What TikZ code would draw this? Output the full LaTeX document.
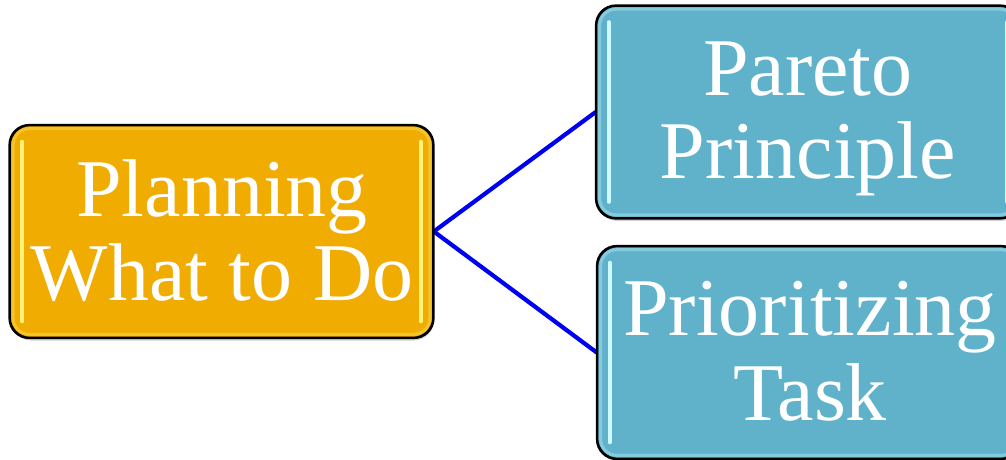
\documentclass[tikz,border=0pt]{standalone}
\usepackage{fontspec}
\setmainfont{Liberation Serif}
\usetikzlibrary{calc,shadows}
\definecolor{orangebox}{HTML}{F0AC00}
\definecolor{bluebox}{HTML}{60B2CB}
\definecolor{orangehi}{HTML}{FFF27A}
\definecolor{bluehi}{HTML}{CFF8FF}
\definecolor{linkblue}{HTML}{0000F0}
\tikzset{
  box/.style={draw=black, line width=1.6pt, rounded corners=20pt,
    minimum width=423pt, minimum height=212pt, inner sep=0pt,
    drop shadow={shadow xshift=1pt, shadow yshift=-3pt, opacity=0.35}},
  lbl/.style={anchor=base, text=white, inner sep=0pt,
    font=\fontsize{82}{82}\selectfont},
  link/.style={draw=linkblue, line width=4.2pt},
  hibar/.style={line width=4pt, line cap=round},
}
\begin{document}
\begin{tikzpicture}[x=1pt,y=-1pt]
\useasboundingbox (0,0) rectangle (1006,460);
\node[box, fill=orangebox] (plan) at (221.5,231.5) {};
\node[box, fill=bluebox] (pareto) at (808,112) {};
\node[box, fill=bluebox] (prio) at (809,352.5) {};
% connectors
\draw[link] (plan.east) -- (pareto.west);
\draw[link] (plan.east) -- (prio.west);
% inner soft edge and highlight bars
\foreach \b/\c in {plan/orangehi, pareto/bluehi, prio/bluehi}{
  \draw[\c, opacity=0.35, line width=3pt, rounded corners=16pt]
    ($(\b.north west)+(4,4)$) rectangle ($(\b.south east)+(-4,-4)$);
  \draw[hibar, \c] ($(\b.north west)+(13,17)$) -- ($(\b.south west)+(13,-17)$);
  \draw[hibar, \c] ($(\b.north east)+(-13,17)$) -- ($(\b.south east)+(-13,-17)$);
}
% borders on top
\foreach \b in {plan, pareto, prio}{
  \draw[black, line width=1.6pt, rounded corners=20pt] (\b.north west) rectangle (\b.south east);
}
% labels
\node[lbl] (plan1) at (222,216) {Planning};
\node[lbl] (plan2) at (222,300) {What to Do};
\node[lbl] (par1) at (808,95) {Pareto};
\node[lbl] (par2) at (808,178) {Principle};
\node[lbl] (pri1) at (810,335) {Prioritizing};
\node[lbl] (pri2) at (810,420) {Task};
\end{tikzpicture}
\end{document}
